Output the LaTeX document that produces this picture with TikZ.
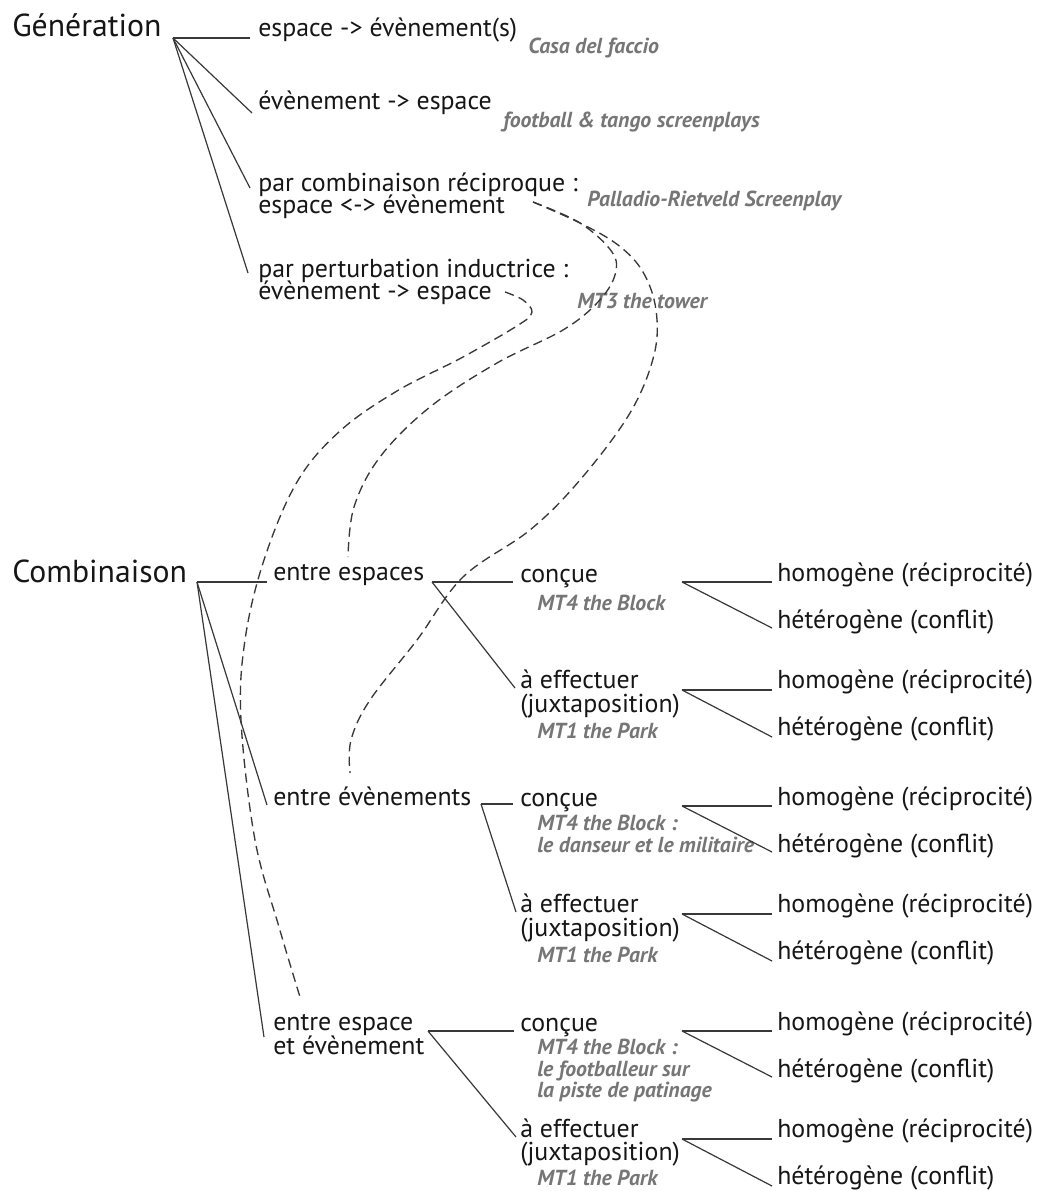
\documentclass[tikz,border=0pt]{standalone}
\usepackage{fontspec}
\setmainfont{PT Sans}
\definecolor{ink}{HTML}{161616}
\definecolor{note}{HTML}{767676}
\definecolor{lnc}{HTML}{383838}
\begin{document}
\begin{tikzpicture}[x=0.75pt,y=-0.75pt,
  txt/.style={anchor=base west, inner sep=0pt, text=ink, font=\fontsize{19.4}{23}\selectfont},
  big/.style={anchor=base west, inner sep=0pt, text=ink, font=\fontsize{23.8}{28}\selectfont},
  nt/.style={anchor=base west, inner sep=0pt, text=note, font=\fontsize{16.3}{19}\selectfont\bfseries\itshape},
  ln/.style={draw=lnc, line width=0.9pt},
  dl/.style={draw=lnc, line width=1pt, dash pattern=on 7pt off 4pt}]
\fill[white] (0,0) rectangle (1041,1191);
\useasboundingbox (0,0) rectangle (1041,1191);

% ---------- Generation ----------
\node[big] (gen) at (12,37) {Génération};
\node[txt] (g1) at (258,37) {espace -> évènement(s)};
\node[nt] (g1n) at (528,54) {Casa del faccio};
\node[txt] (g2) at (258,110) {évènement -> espace};
\node[nt] (g2n) at (503,128) {football \& tango screenplays};
\node[txt] (g3a) at (258,192) {par combinaison réciproque :};
\node[txt] (g3b) at (258,214) {espace <-> évènement};
\node[nt] (g3n) at (587,207) {Palladio-Rietveld Screenplay};
\node[txt] (g4a) at (258,277) {par perturbation inductrice :};
\node[txt] (g4b) at (258,299) {évènement -> espace};
\node[nt] (g4n) at (577,308) {MT3 the tower};

\coordinate (gj) at (173,38);
\draw[ln] (gj) -- ([shift={(-8,1)}]g1.base west);
\draw[ln] (gj) -- ([shift={(-6,3)}]g2.base west);
\draw[ln] (gj) -- ([shift={(-8,-4)}]g3a.base west);
\draw[ln] (gj) -- ([shift={(-10,-4)}]g4a.base west);

% ---------- Combinaison ----------
\node[big] (comb) at (12,582) {Combinaison};
\node[txt] (c1) at (273,580) {entre espaces};
\node[txt] (c2) at (273,805) {entre évènements};
\node[txt] (c3a) at (273,1030) {entre espace};
\node[txt] (c3b) at (273,1054) {et évènement};

\coordinate (cj) at (197,582);
\draw[ln] (cj) -- ([shift={(-6,2)}]c1.base west);
\draw[ln] (cj) -- ([shift={(-6,0)}]c2.base west);
\draw[ln] (cj) -- ([shift={(-9,7)}]c3a.base west);

% group 1
\node[txt] (cq1) at (520,582) {conçue};
\node[nt] (n1) at (537,610) {MT4 the Block};
\node[txt] (ae1) at (520,688) {à effectuer};
\node[txt] (ae1b) at (520,712) {(juxtaposition)};
\node[nt] (p1) at (537,738) {MT1 the Park};
\node[txt] (ho1) at (777,581) {homogène (réciprocité)};
\node[txt] (he1) at (777,628) {hétérogène (conflit)};
\node[txt] (ho1b) at (777,688) {homogène (réciprocité)};
\node[txt] (he1b) at (777,735) {hétérogène (conflit)};

% group 2
\node[txt] (cq2) at (520,806) {conçue};
\node[nt] (n2a) at (537,830) {MT4 the Block :};
\node[nt] (n2b) at (537,852) {le danseur et le militaire};
\node[txt] (ae2) at (520,912) {à effectuer};
\node[txt] (ae2b) at (520,936) {(juxtaposition)};
\node[nt] (p2) at (537,962) {MT1 the Park};
\node[txt] (ho2) at (777,805) {homogène (réciprocité)};
\node[txt] (he2) at (777,852) {hétérogène (conflit)};
\node[txt] (ho2b) at (777,912) {homogène (réciprocité)};
\node[txt] (he2b) at (777,959) {hétérogène (conflit)};

% group 3
\node[txt] (cq3) at (520,1031) {conçue};
\node[nt] (n3a) at (537,1054) {MT4 the Block :};
\node[nt] (n3b) at (537,1076) {le footballeur sur};
\node[nt] (n3c) at (537,1097) {la piste de patinage};
\node[txt] (ae3) at (520,1137) {à effectuer};
\node[txt] (ae3b) at (520,1160) {(juxtaposition)};
\node[nt] (p3) at (537,1185) {MT1 the Park};
\node[txt] (ho3) at (777,1030) {homogène (réciprocité)};
\node[txt] (he3) at (777,1077) {hétérogène (conflit)};
\node[txt] (ho3b) at (777,1137) {homogène (réciprocité)};
\node[txt] (he3b) at (777,1184) {hétérogène (conflit)};

% left junctions
\coordinate (lj1) at (432,582);
\coordinate (lj2) at (481,804);
\coordinate (lj3) at (428,1031);
\draw[ln] (lj1) -- ([shift={(-7,0)}]cq1.base west);
\draw[ln] (lj1) -- ([shift={(-5,0)}]ae1.base west);
\draw[ln] (lj2) -- ([shift={(-7,-2)}]cq2.base west);
\draw[ln] (lj2) -- ([shift={(-4,0)}]ae2.base west);
\draw[ln] (lj3) -- ([shift={(-6,0)}]cq3.base west);
\draw[ln] (lj3) -- ([shift={(-4,0)}]ae3.base west);

% right junctions
\coordinate (rj1) at (682,582);
\coordinate (rj1b) at (682,690);
\coordinate (rj2) at (682,806);
\coordinate (rj2b) at (682,914);
\coordinate (rj3) at (682,1031);
\coordinate (rj3b) at (682,1139);
\draw[ln] (rj1) -- ([shift={(-5,1)}]ho1.base west);
\draw[ln] (rj1) -- ([shift={(-5,0)}]he1.base west);
\draw[ln] (rj1b) -- ([shift={(-5,2)}]ho1b.base west);
\draw[ln] (rj1b) -- ([shift={(-5,2)}]he1b.base west);
\draw[ln] (rj2) -- ([shift={(-5,1)}]ho2.base west);
\draw[ln] (rj2) -- ([shift={(-5,0)}]he2.base west);
\draw[ln] (rj2b) -- ([shift={(-5,2)}]ho2b.base west);
\draw[ln] (rj2b) -- ([shift={(-5,2)}]he2b.base west);
\draw[ln] (rj3) -- ([shift={(-5,1)}]ho3.base west);
\draw[ln] (rj3) -- ([shift={(-5,0)}]he3.base west);
\draw[ln] (rj3b) -- ([shift={(-5,2)}]ho3b.base west);
\draw[ln] (rj3b) -- ([shift={(-5,2)}]he3b.base west);

% ---------- dashed links ----------
\coordinate (dB0) at (533,202);
\coordinate (dB1) at (348,557);
\coordinate (dC1) at (350,773);
\coordinate (dD0) at (505,292);
\coordinate (dD1) at (300,997);
\draw[dl] plot[smooth, tension=0.6] coordinates {(dB0) (580,223) (612,252) (615,275) (598,302) (563,330) (497,363) (430,407) (380,457) (354,507) (dB1)};
\draw[dl] plot[smooth, tension=0.6] coordinates {(dB0) (580,223) (618,245) (643,272) (656,310) (654,355) (630,413) (580,480) (530,530) (463,577) (417,640) (370,700) (351,740) (dC1)};
\draw[dl] plot[smooth, tension=0.6] coordinates {(dD0) (523,300) (532,312) (520,324) (463,357) (397,391) (340,431) (297,482) (264,560) (245,640) (241,720) (255,840) (279,927) (dD1)};
\end{tikzpicture}
\end{document}
